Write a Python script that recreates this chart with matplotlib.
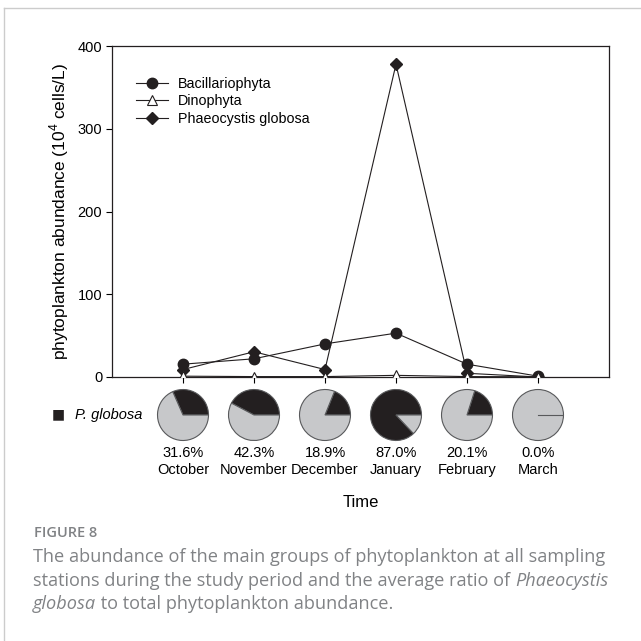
import matplotlib
matplotlib.use("Agg")
import matplotlib.pyplot as plt
from matplotlib.lines import Line2D
import numpy as np

plt.rcParams['font.family'] = ['Liberation Sans', 'DejaVu Sans']

months = ['October', 'November', 'December', 'January', 'February', 'March']
bacillariophyta = [15.5, 22, 40, 53, 15.5, 1.0]
dinophyta = [1.0, 0.5, 0.5, 2.0, 0.5, 0.3]
phaeocystis = [9, 30.5, 9, 378, 4.5, 0.0]
pg_ratio = [31.6, 42.3, 18.9, 87.0, 20.1, 0.0]

caption_head = 'FIGURE 8'
caption = [
    [('The abundance of the main groups of phytoplankton at all sampling', 'normal')],
    [('stations during the study period and the average ratio of ', 'normal'), ('Phaeocystis', 'italic')],
    [('globosa', 'italic'), (' to total phytoplankton abundance.', 'normal')],
]

W = H = 641
fig = plt.figure(figsize=(6.41, 6.41), dpi=100)

# axes box in pixels: left 112, right 609, top 46, bottom 377
ax = fig.add_axes([112 / W, 1 - 377 / H, (609 - 112) / W, (377 - 46) / H])
x = list(range(1, len(months) + 1))

ax.plot(x, bacillariophyta, color='#231f20', lw=0.8, marker='o', ms=7.5, mfc='#231f20', mec='#231f20',
        label='Bacillariophyta', zorder=3)
ax.plot(x, dinophyta, color='#231f20', lw=0.8, marker='^', ms=6.5, mfc='white', mec='#231f20', mew=0.8,
        label='Dinophyta', zorder=4)
ax.plot(x, phaeocystis, color='#231f20', lw=0.8, marker='D', ms=6.5, mfc='#231f20', mec='#231f20',
        label='Phaeocystis globosa', zorder=3)

ax.set_xlim(0, 7)
ax.set_ylim(0, 400)
ax.set_yticks([0, 100, 200, 300, 400])
ax.set_xticks(x)
ax.set_xticklabels([f'{r:.1f}%\n{m}' for r, m in zip(pg_ratio, months)], fontsize=10.5, linespacing=1.2)
ax.tick_params(axis='y', direction='out', length=4, width=0.8, labelsize=10.5, pad=3)
ax.tick_params(axis='x', direction='out', length=4, width=0.8, pad=46)
for s in ax.spines.values():
    s.set_linewidth(0.9)
    s.set_color('#231f20')
ax.set_ylabel('phytoplankton abundance (10$^{\\mathregular{4}}$ cells/L)', fontsize=12.5, labelpad=5)
ax.set_xlabel('Time', fontsize=12, labelpad=13)

ax.legend(loc='upper left', bbox_to_anchor=(0.037, 0.925), frameon=False, fontsize=10.3,
          handlelength=2.2, handletextpad=0.75, labelspacing=0.27, borderaxespad=0)

# pie charts under each month
pie_size = 52
for xi, r in zip(x, pg_ratio):
    px, _ = ax.transData.transform((xi, 0))
    cx = px / (fig.dpi * fig.get_figwidth()) * W
    pax = fig.add_axes([(cx - pie_size / 2) / W, 1 - (415 + pie_size / 2) / H, pie_size / W, pie_size / H])
    pax.pie([r, 100 - r], colors=['#231f20', '#c7c8ca'], startangle=0, counterclock=True,
            wedgeprops=dict(edgecolor='#58595b', linewidth=0.8))
    if r == 0:
        # empty wedge still shows its start edge
        pax.plot([0, np.cos(0)], [0, np.sin(0)], color='#58595b', lw=0.8)
    pax.set_xlim(-1.02, 1.02)
    pax.set_ylim(-1.02, 1.02)
    pax.set_aspect('equal')

# P. globosa key
fig.text(58 / W, 1 - 414 / H, '\u25A0', fontsize=10, ha='center', va='center', color='#231f20',
         family=['DejaVu Sans'])
fig.text(75 / W, 1 - 415 / H, 'P. globosa', fontsize=10.5, style='italic', ha='left', va='center')

# card border
fig.add_artist(Line2D([4 / W, 1], [1 - 8 / H, 1 - 8 / H], color='#cccccc', lw=1))
fig.add_artist(Line2D([4 / W, 4 / W], [0, 1 - 8 / H], color='#cccccc', lw=1))

# caption
fig.text(34 / W, 1 - 533 / H, caption_head, fontsize=10.5, family=['Open Sans'], weight='semibold',
         color='#808285', ha='left', va='center')
renderer = fig.canvas.get_renderer()
y0 = 562
for i, line in enumerate(caption):
    xpos = 33 / W
    ypos = 1 - (y0 + i * 23.5) / H
    for txt, st in line:
        t = fig.text(xpos, ypos, txt, fontsize=13.1, family=['Open Sans'], style=st, color='#808285',
                     ha='left', va='baseline')
        bb = t.get_window_extent(renderer=renderer)
        xpos = bb.x1 / (fig.dpi * fig.get_figwidth())

fig.savefig('out.png', dpi=100)
